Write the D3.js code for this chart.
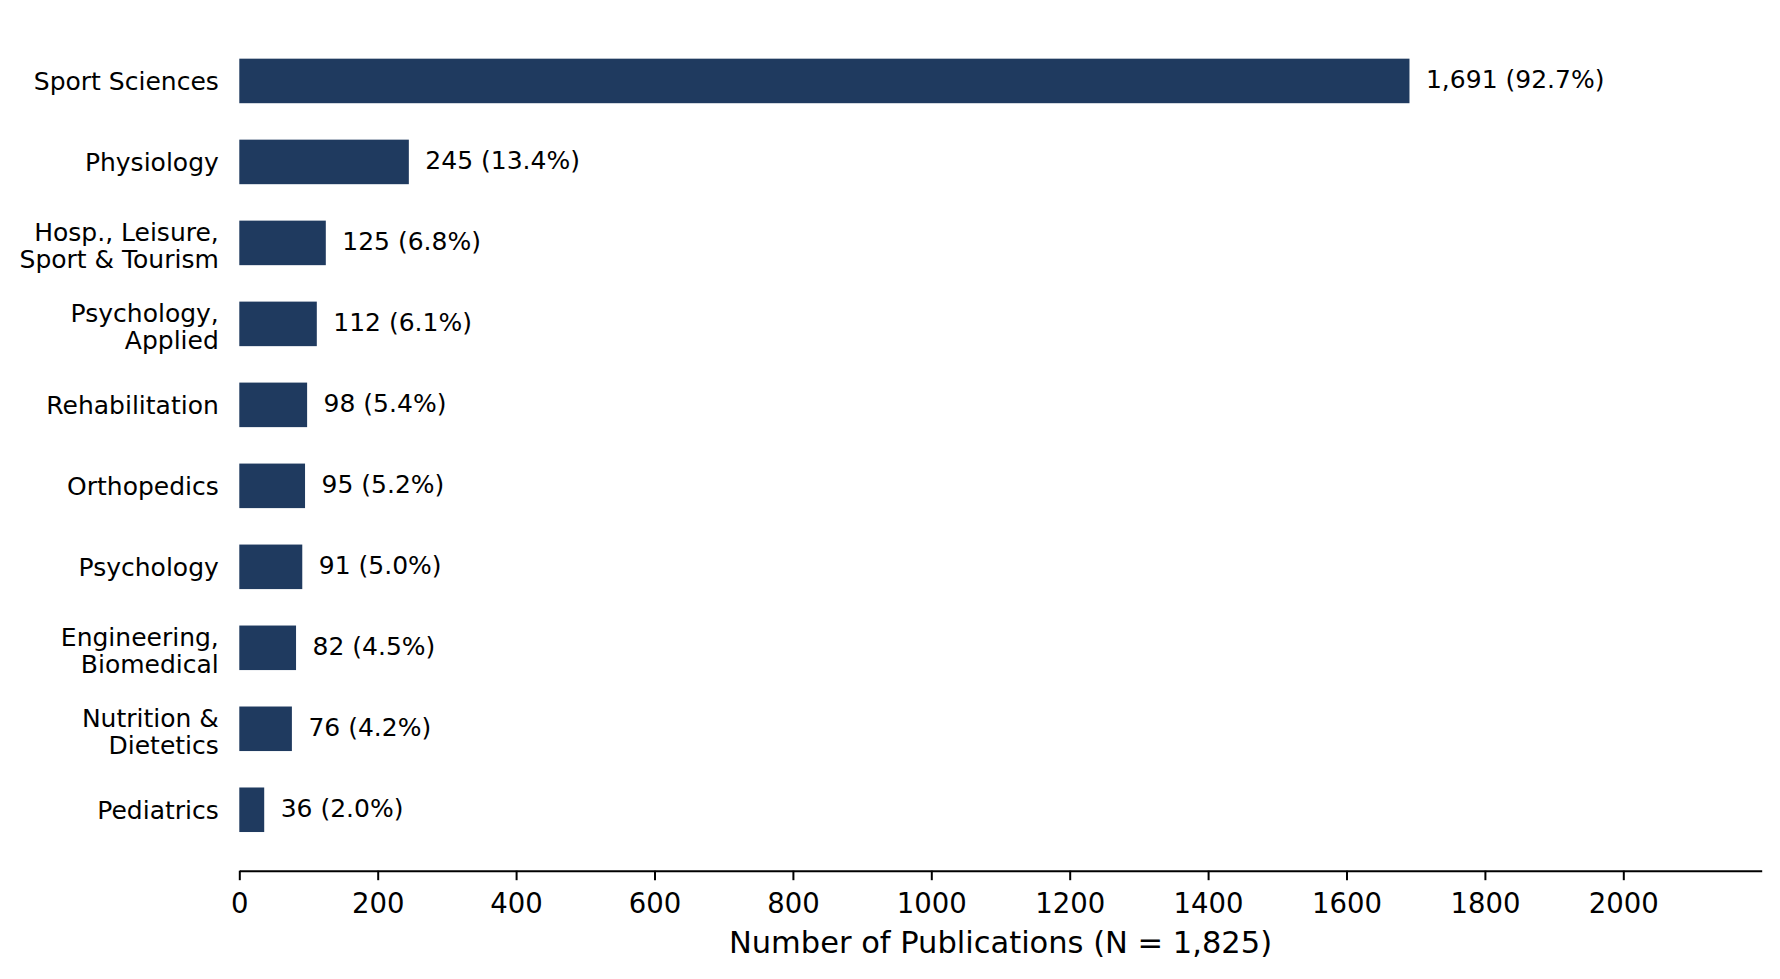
<!DOCTYPE html>
<html>
<head>
<meta charset="utf-8">
<script src="https://cdn.jsdelivr.net/npm/d3@7"></script>
<style>
  html, body { margin: 0; padding: 0; background: #ffffff; }
  svg { display: block; font-family: "DejaVu Sans", sans-serif; }
</style>
</head>
<body>
<svg id="chart" width="1780" height="979"></svg>
<script>
// ---- data ----
const categories = [
  "Sport Sciences",
  "Physiology",
  "Hosp., Leisure,\nSport & Tourism",
  "Psychology,\nApplied",
  "Rehabilitation",
  "Orthopedics",
  "Psychology",
  "Engineering,\nBiomedical",
  "Nutrition &\nDietetics",
  "Pediatrics"
];
const counts = [1691, 245, 125, 112, 98, 95, 91, 82, 76, 36];
const percents = [92.7, 13.4, 6.8, 6.1, 5.4, 5.2, 5.0, 4.5, 4.2, 2.0];
const xTicks = [0, 200, 400, 600, 800, 1000, 1200, 1400, 1600, 1800, 2000];
const xTitle = "Number of Publications (N = 1,825)";
const xMax = 2200;

// ---- layout ----
const plotLeft = 239.3, plotRight = 1761.7, plotTop = 20, plotBottom = 870.7;
const barColor = "#1f3a5f";

const svg = d3.select("#chart");

const x = d3.scaleLinear().domain([0, xMax]).range([plotLeft, plotRight]);
const y = d3.scaleBand()
  .domain(categories)
  .range([plotTop, plotBottom])
  .paddingInner(0.45)
  .paddingOuter(0.4775);

const data = categories.map((c, i) => ({ cat: c, v: counts[i], p: percents[i] }));

// bars
svg.append("g").selectAll("rect").data(data).join("rect")
  .attr("x", x(0))
  .attr("y", d => y(d.cat))
  .attr("width", d => x(d.v) - x(0))
  .attr("height", y.bandwidth())
  .attr("fill", barColor);

// value labels
const fmt = d3.format(",");
svg.append("g").selectAll("text").data(data).join("text")
  .attr("x", d => x(d.v) + 16.5)
  .attr("y", d => y(d.cat) + y.bandwidth() / 2 + 7)
  .attr("font-size", 25)
  .attr("fill", "#000")
  .text(d => `${fmt(d.v)} (${d.p.toFixed(1)}%)`);

// category labels
const catG = svg.append("g");
data.forEach(d => {
  const lines = d.cat.split("\n");
  const n = lines.length;
  const cy = y(d.cat) + y.bandwidth() / 2;
  const t = catG.append("text")
    .attr("text-anchor", "end")
    .attr("font-size", 25)
    .attr("fill", "#000");
  lines.forEach((ln, i) => {
    const off = 9 + (n - 1) * 2.75 + (i - (n - 1) / 2) * 27.3;
    t.append("tspan")
      .attr("x", plotLeft - 20.5)
      .attr("y", cy + off)
      .text(ln);
  });
});

// x axis
const axis = d3.axisBottom(x)
  .tickValues(xTicks)
  .tickFormat(d3.format("d"))
  .tickSize(9.5)
  .tickPadding(13)
  .tickSizeOuter(0);

const ax = svg.append("g")
  .attr("transform", `translate(0,${plotBottom})`)
  .call(axis);
ax.select(".domain").attr("stroke", "#000").attr("stroke-width", 2);
ax.selectAll(".tick line").attr("stroke", "#000").attr("stroke-width", 2);
ax.selectAll(".tick text")
  .attr("font-size", 27.5)
  .attr("font-family", "DejaVu Sans, sans-serif")
  .attr("fill", "#000");

// axis title
svg.append("text")
  .attr("x", (plotLeft + plotRight) / 2)
  .attr("y", 953)
  .attr("text-anchor", "middle")
  .attr("font-size", 30.5)
  .attr("fill", "#000")
  .text(xTitle);
</script>
</body>
</html>
